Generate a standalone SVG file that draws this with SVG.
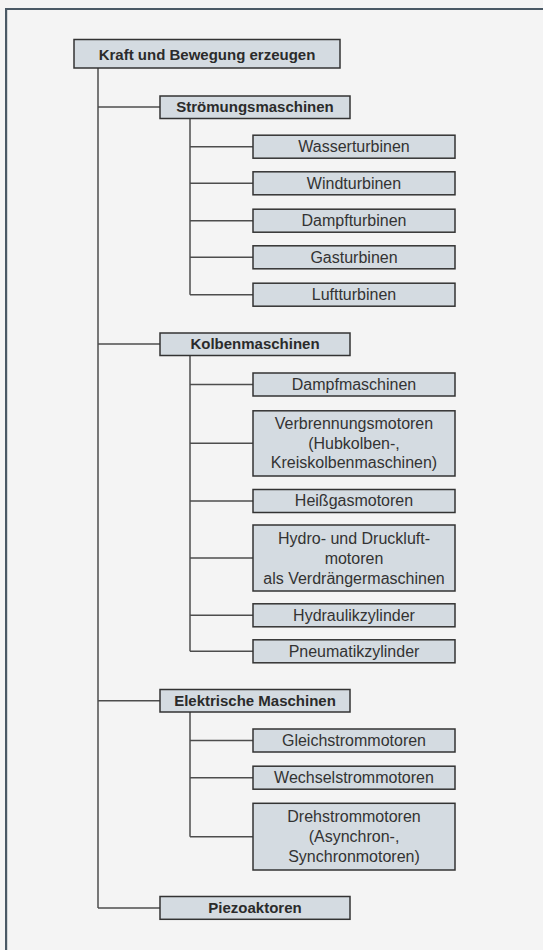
<svg xmlns="http://www.w3.org/2000/svg" width="543" height="950" viewBox="0 0 543 950">
<style>
.bg{fill:#f4f4f4}
.frame{stroke:#4a5965;stroke-width:2.2;fill:none}
.box{fill:#d4dbe1;stroke:#333;stroke-width:1.5}
.ln{stroke:#4d4d4d;stroke-width:1.5;fill:none}
.b{font-family:"Liberation Sans",Arial,sans-serif;font-size:15px;font-weight:bold;fill:#2b2b2b;text-anchor:middle}
.r{font-family:"Liberation Sans",Arial,sans-serif;font-size:16px;fill:#333;text-anchor:middle}
</style>
<rect class="bg" x="0" y="0" width="543" height="950"/>
<path class="frame" d="M6.1,950 V9 H543"/>
<g id="connectors">
<path class="ln" d="M98,68 V908 M98,107 H160 M98,344 H160 M98,700.8 H160 M98,908 H160"/>
<path class="ln" d="M190,118.5 V294.7 M190,146.7 H253 M190,183.3 H253 M190,220.7 H253 M190,257.3 H253 M190,294.7 H253"/>
<path class="ln" d="M190,355.5 V651.3 M190,384.5 H253 M190,443.3 H253 M190,501 H253 M190,558 H253 M190,615.3 H253 M190,651.3 H253"/>
<path class="ln" d="M190,712 V836.7 M190,740.5 H253 M190,777.7 H253 M190,836.7 H253"/>
</g>
<g id="n0"><rect class="box" x="74" y="39.5" width="266" height="28.5"/><text class="b" x="207" y="59.5">Kraft und Bewegung erzeugen</text></g>
<g id="n1"><rect class="box" x="160" y="96" width="190" height="22.5"/><text class="b" x="255" y="112">Strömungsmaschinen</text></g>
<g id="n1a"><rect class="box" x="253" y="135.2" width="202" height="23"/><text class="r" x="354" y="152">Wasserturbinen</text></g>
<g id="n1b"><rect class="box" x="253" y="171.8" width="202" height="23"/><text class="r" x="354" y="188.6">Windturbinen</text></g>
<g id="n1c"><rect class="box" x="253" y="209.2" width="202" height="23"/><text class="r" x="354" y="226">Dampfturbinen</text></g>
<g id="n1d"><rect class="box" x="253" y="245.8" width="202" height="23"/><text class="r" x="354" y="262.6">Gasturbinen</text></g>
<g id="n1e"><rect class="box" x="253" y="283.2" width="202" height="23"/><text class="r" x="354" y="300">Luftturbinen</text></g>
<g id="n2"><rect class="box" x="160" y="333" width="190" height="22.5"/><text class="b" x="255" y="349">Kolbenmaschinen</text></g>
<g id="n2a"><rect class="box" x="253" y="373" width="202" height="23"/><text class="r" x="354" y="389.8">Dampfmaschinen</text></g>
<g id="n2b"><rect class="box" x="253" y="410.8" width="202" height="65.2"/><text class="r" x="354" y="429.3">Verbrennungsmotoren<tspan x="354" dy="19.5">(Hubkolben-,</tspan><tspan x="354" dy="19.5">Kreiskolbenmaschinen)</tspan></text></g>
<g id="n2c"><rect class="box" x="253" y="489.5" width="202" height="23"/><text class="r" x="354" y="506.3">Heißgasmotoren</text></g>
<g id="n2d"><rect class="box" x="253" y="525" width="202" height="66"/><text class="r" x="354" y="543.5">Hydro- und Druckluft-<tspan x="354" dy="20">motoren</tspan><tspan x="354" dy="20">als Verdrängermaschinen</tspan></text></g>
<g id="n2e"><rect class="box" x="253" y="603.8" width="202" height="23"/><text class="r" x="354" y="620.6">Hydraulikzylinder</text></g>
<g id="n2f"><rect class="box" x="253" y="639.8" width="202" height="23"/><text class="r" x="354" y="656.6">Pneumatikzylinder</text></g>
<g id="n3"><rect class="box" x="160" y="689.5" width="190" height="22.5"/><text class="b" x="255" y="705.5">Elektrische Maschinen</text></g>
<g id="n3a"><rect class="box" x="253" y="729" width="202" height="23"/><text class="r" x="354" y="745.8">Gleichstrommotoren</text></g>
<g id="n3b"><rect class="box" x="253" y="766.2" width="202" height="23"/><text class="r" x="354" y="783">Wechselstrommotoren</text></g>
<g id="n3c"><rect class="box" x="253" y="803.3" width="202" height="66.7"/><text class="r" x="354" y="822.3">Drehstrommotoren<tspan x="354" dy="19.7">(Asynchron-,</tspan><tspan x="354" dy="19.7">Synchronmotoren)</tspan></text></g>
<g id="n4"><rect class="box" x="160" y="896.5" width="190" height="22.8"/><text class="b" x="255" y="912.6">Piezoaktoren</text></g>
</svg>
